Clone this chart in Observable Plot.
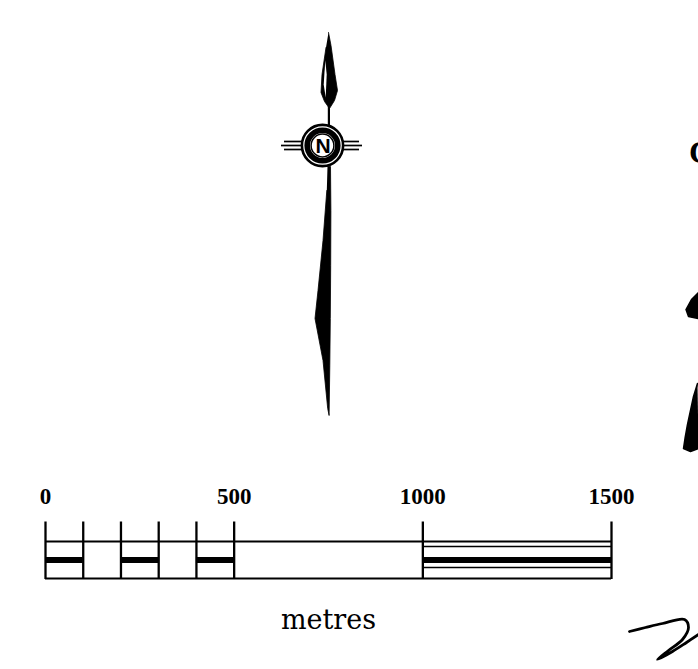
<!DOCTYPE html>
<html>
<head>
<meta charset="utf-8">
<script src="https://cdn.jsdelivr.net/npm/d3@7"></script>
<script src="https://cdn.jsdelivr.net/npm/@observablehq/plot@0.6"></script>
<style>
  html, body { margin: 0; padding: 0; background: #fff; }
  #chart svg { display: block; }
</style>
</head>
<body>
<div id="chart"></div>
<script>
// ---- Data: scale bar (metres) ----
const minorTicks = [0, 100, 200, 300, 400, 500, 1000, 1500];
const blackSegments = [[0, 100], [200, 300], [400, 500], [1000, 1500]];
const doubleLineSegments = [[1000, 1500]];
const labelTicks = [0, 500, 1000, 1500];
const unitLabel = "metres";
const northLabel = "N";
const edgeLetter = "C";

// ---- Glyph outlines (page-pixel units) ----
const upperNeedle = [[328,32],[330.5,45],[334.5,74],[337,90],[334,100],[329,108],[324,101],[320.5,92],[321.5,74],[325.5,47]];
const upperSliver = [[324.8,60],[323.2,84],[325.2,97],[326.2,74]];
const lowerNeedle = [[327,166],[330,166],[330.4,210],[330.2,265],[329.8,318],[329.3,365],[328.6,415],[327.2,408],[322.5,360],[314.5,318],[317.5,290],[322.5,240],[326.3,190]];
const compassRings = [{r: 20.6, w: 2.6}, {r: 15.3, w: 5.6}, {r: 11.4, w: 1.5}];
const sideBars = [
  {y: 141, l1: 284, l2: 302, r1: 342, r2: 359},
  {y: 145, l1: 281, l2: 302, r1: 342, r2: 362},
  {y: 149, l1: 284, l2: 302, r1: 342, r2: 359}
];
const edgeBlobSmall = [[698,292],[691,299],[685.5,309],[688,316],[698,318]];
const edgeBlobLarge = [[697,383],[693,396],[690,410],[687,424],[684.5,438],[683,448],[690,451],[698,448]];
const edgeScribble = [[629,631],[645,627],[662,623],[684,619],[688,627],[682,639],[668,650],[657,659],[672,651],[686,642],[698,634]];

// Same linear mapping as the Plot x scale (metres -> pixels)
const xs = d3.scaleLinear([0, 1500], [45, 611]);
const X = px => xs.invert(px);
const pts = arr => arr.map(([x, y]) => ({x: X(x), y}));

const ringCenter = {x: X(322), y: 145};

const chart = Plot.plot({
  width: 698,
  height: 669,
  margin: 0,
  style: {background: "#fff", overflow: "hidden"},
  x: {domain: [0, 1500], range: [45, 611], axis: null},
  y: {domain: [0, 669], range: [0, 669], axis: null},
  marks: [
    // scale bar outer lines
    Plot.ruleY([{y: 541}, {y: 578}], {x1: 0, x2: 1500, y: "y", stroke: "#000", strokeWidth: 2}),
    // inner double lines in the last segment
    Plot.ruleY(doubleLineSegments.flatMap(([a, b]) => [{a, b, y: 546}, {a, b, y: 567}]),
      {x1: "a", x2: "b", y: "y", stroke: "#000", strokeWidth: 1.5}),
    // black bands
    Plot.rect(blackSegments, {x1: d => d[0], x2: d => d[1], y1: 557, y2: 563, fill: "#000"}),
    // ticks
    Plot.ruleX(minorTicks, {x: d => d, y1: 521.5, y2: 579, stroke: "#000", strokeWidth: 2.3}),
    // tick labels
    Plot.text(labelTicks, {x: d => d, y: 503, text: d => String(d), lineAnchor: "bottom",
      fontFamily: "Liberation Serif", fontWeight: "bold", fontSize: 23, fill: "#000"}),
    // unit label
    Plot.text([unitLabel], {x: 750, y: 628, text: d => d, lineAnchor: "bottom",
      fontFamily: "DejaVu Serif", fontSize: 27, fill: "#000"}),

    // north arrow
    Plot.line(pts(upperNeedle), {x: "x", y: "y", fill: "#000", stroke: "#000", strokeWidth: 0.8}),
    Plot.line(pts(upperSliver), {x: "x", y: "y", fill: "#fff", stroke: "none"}),
    Plot.ruleX([{x: X(328.4)}], {x: "x", y1: 106, y2: 126, stroke: "#000", strokeWidth: 2.2}),
    Plot.line(pts(lowerNeedle), {x: "x", y: "y", fill: "#000", stroke: "#000", strokeWidth: 0.8}),
    Plot.ruleY(sideBars, {x1: d => X(d.l1), x2: d => X(d.l2), y: "y", stroke: "#000", strokeWidth: 1.7}),
    Plot.ruleY(sideBars, {x1: d => X(d.r1), x2: d => X(d.r2), y: "y", stroke: "#000", strokeWidth: 1.7}),
    Plot.dot([ringCenter], {x: "x", y: "y", r: 21, fill: "#fff", stroke: "none"}),
    ...compassRings.map(c => Plot.dot([ringCenter], {x: "x", y: "y", r: c.r, fill: "none", stroke: "#000", strokeWidth: c.w})),
    Plot.text([northLabel], {x: X(322.5), y: 145.5, text: d => d, lineAnchor: "middle",
      fontFamily: "Liberation Sans", fontWeight: "bold", fontSize: 21, fill: "#000"}),

    // fragments at the right edge
    Plot.text([edgeLetter], {x: X(700), y: 152, text: d => d, lineAnchor: "middle",
      fontFamily: "Liberation Serif", fontWeight: "bold", fontSize: 32, fill: "#000"}),
    Plot.line(pts(edgeBlobSmall), {x: "x", y: "y", fill: "#000", stroke: "#000"}),
    Plot.line(pts(edgeBlobLarge), {x: "x", y: "y", fill: "#000", stroke: "#000"}),
    Plot.line(pts(edgeScribble), {x: "x", y: "y", stroke: "#000", strokeWidth: 2.8, curve: "catmull-rom"})
  ]
});
document.getElementById("chart").appendChild(chart);
</script>
</body>
</html>
